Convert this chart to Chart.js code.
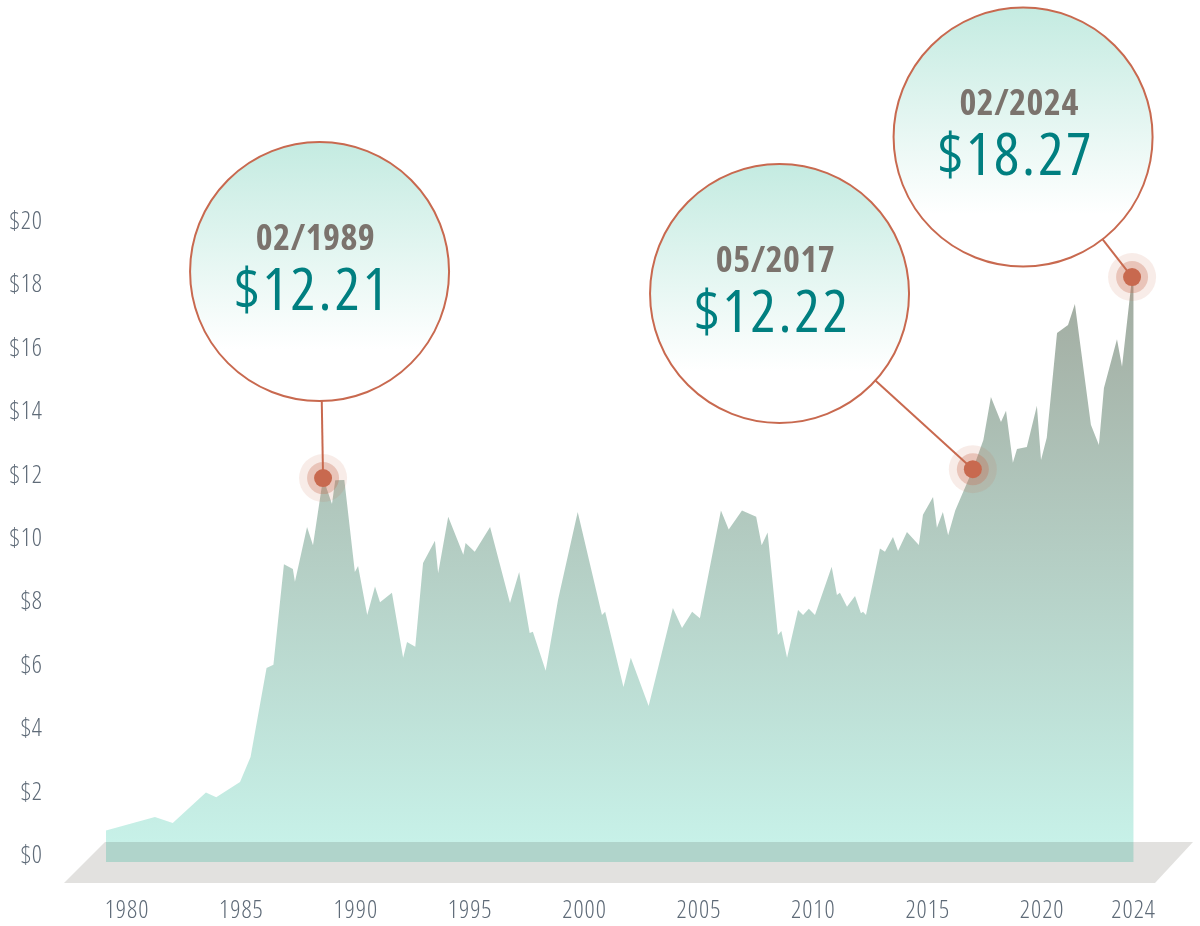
<!DOCTYPE html>
<html><head><meta charset="utf-8">
<script src="https://cdn.jsdelivr.net/npm/chart.js@4.4.1/dist/chart.umd.min.js"></script>
<style>html,body{margin:0;padding:0;background:#fff;overflow:hidden;}#wrap{width:1200px;height:926px;position:relative;}canvas{display:block;}</style>
</head><body><div id="wrap"><canvas id="c"></canvas></div>
<script>
// ---- data ----
const years = [1979.08,1981.22,1982.0,1983.45,1983.9,1984.94,1985.4,1986.1,1986.4,1986.86,1987.25,1987.34,1987.87,1988.13,1988.57,1988.96,1989.1,1989.5,1989.96,1990.1,1990.5,1990.84,1991.06,1991.58,1992.07,1992.24,1992.6,1992.94,1993.46,1993.6,1994.04,1994.7,1994.8,1995.2,1995.87,1996.74,1997.14,1997.6,1997.74,1998.3,1998.84,1999.7,2000.76,2000.9,2001.7,2002.02,2002.8,2003.86,2004.26,2004.7,2005.04,2005.96,2006.3,2006.88,2007.5,2007.74,2008.0,2008.45,2008.6,2008.85,2009.33,2009.55,2009.8,2010.07,2010.8,2011.03,2011.16,2011.47,2011.82,2012.08,2012.17,2012.3,2012.91,2013.13,2013.48,2013.7,2014.09,2014.61,2014.79,2015.23,2015.4,2015.66,2015.89,2016.2,2016.97,2017.43,2017.76,2018.2,2018.42,2018.72,2018.9,2019.33,2019.77,2019.95,2020.2,2020.65,2021.13,2021.43,2022.13,2022.48,2022.7,2023.27,2023.49,2023.93,2024.0];
const values = [0.80,1.23,1.04,2.0,1.85,2.33,3.12,5.93,6.03,9.2,9.05,8.65,10.38,9.8,11.92,11.1,11.85,11.86,8.96,9.15,7.6,8.5,8.0,8.3,6.25,6.75,6.6,9.24,9.94,8.92,10.7,9.5,9.87,9.6,10.38,7.98,8.96,7.03,7.07,5.84,8.08,10.85,7.6,7.7,5.33,6.25,4.73,7.82,7.19,7.7,7.5,10.9,10.3,10.9,10.7,9.8,10.2,6.97,7.1,6.25,7.76,7.6,7.8,7.6,9.12,8.23,8.3,7.86,8.2,7.66,7.7,7.6,9.7,9.6,10.06,9.62,10.22,9.81,10.76,11.32,10.35,10.85,10.12,10.9,12.2,13.12,14.48,13.69,14.04,12.4,12.84,12.9,14.2,12.49,13.19,16.5,16.75,17.41,13.6,12.96,14.76,16.3,15.43,18.26,18.2];
const markerYears = [1988.57, 2016.97, 2023.93];
const markerValues = [11.92, 12.2, 18.26];
const markerDates = ['02/1989', '05/2017', '02/2024'];
const markerLabels = ['$12.21', '$12.22', '$18.27'];
const xTickValues = [1980, 1985, 1990, 1995, 2000, 2005, 2010, 2015, 2020, 2024];
const yTickValues = [0, 2, 4, 6, 8, 10, 12, 14, 16, 18, 20];

// ---- styling / layout (not data) ----
// all text on this page uses a narrow width of Open Sans; tick text gets slight tracking
(function () {
  const proto = CanvasRenderingContext2D.prototype;
  const d = Object.getOwnPropertyDescriptor(proto, 'font');
  Object.defineProperty(proto, 'font', {
    configurable: true,
    get() { return d.get.call(this); },
    set(v) {
      d.set.call(this, v);
      try { this.fontStretch = 'semi-condensed'; } catch (e) {}
      try { this.letterSpacing = /\b25px\b/.test(v) ? '1px' : '0px'; } catch (e) {}
    }
  });
})();
const FONT = "'Open Sans', 'DejaVu Sans Condensed', sans-serif";
const calloutOffsets = [{dx: -3.5, dy: -206.5}, {dx: -193.3, dy: -175.7}, {dx: -109, dy: -140}];
const CALLOUT_R = 129.5;
const ACCENT = '#c8694f';

const areaPoints = years.map((x, i) => ({x, y: values[i]}));
const markerPoints = markerYears.map((x, i) => ({x, y: markerValues[i]}));

const decor = {
  id: 'decor',
  afterDatasetDraw(chart, args) {
    if (args.index !== 0) return;
    const ctx = chart.ctx, ca = chart.chartArea;
    const xs = chart.scales.x, ys = chart.scales.y;
    // perspective floor
    ctx.save();
    ctx.globalCompositeOperation = 'multiply';
    ctx.fillStyle = '#e2e1df';
    const top = ca.bottom - 20, bot = ca.bottom + 21;
    ctx.beginPath();
    ctx.moveTo(105, top); ctx.lineTo(1193, top); ctx.lineTo(1155, bot); ctx.lineTo(64, bot);
    ctx.closePath(); ctx.fill();
    ctx.restore();
    // callouts
    markerYears.forEach((yr, i) => {
      const px = xs.getPixelForValue(yr), py = ys.getPixelForValue(markerValues[i]);
      const cx = px + calloutOffsets[i].dx, cy = py + calloutOffsets[i].dy;
      const ddx = px - cx, ddy = py - cy, len = Math.hypot(ddx, ddy);
      const ex = cx + CALLOUT_R * ddx / len, ey = cy + CALLOUT_R * ddy / len;
      ctx.save();
      ctx.strokeStyle = ACCENT; ctx.lineWidth = 2;
      ctx.beginPath(); ctx.moveTo(ex, ey); ctx.lineTo(px, py); ctx.stroke();
      const g = ctx.createLinearGradient(0, cy - CALLOUT_R, 0, cy + CALLOUT_R);
      g.addColorStop(0, '#c4ebe1'); g.addColorStop(0.8, '#ffffff'); g.addColorStop(1, '#ffffff');
      ctx.beginPath(); ctx.arc(cx, cy, CALLOUT_R, 0, Math.PI * 2);
      ctx.fillStyle = g; ctx.fill();
      ctx.lineWidth = 2; ctx.strokeStyle = ACCENT; ctx.stroke();
      ctx.textAlign = 'center'; ctx.textBaseline = 'alphabetic';
      ctx.fillStyle = '#7b736d'; ctx.font = "700 36px " + FONT;
      ctx.letterSpacing = '0.5px';
      ctx.fillText(markerDates[i], cx - 4, cy - 22);
      ctx.fillStyle = '#007f80'; ctx.font = "400 59px " + FONT;
      ctx.letterSpacing = '3px';
      ctx.fillText(markerLabels[i], cx - 7, cy + 38);
      ctx.restore();
    });
  }
};

new Chart(document.getElementById('c'), {
  type: 'line',
  data: {
    datasets: [
      { label: 'area', data: areaPoints, order: 10, fill: 'start', borderWidth: 0, pointRadius: 0, tension: 0,
        backgroundColor(ctx) {
          const ca = ctx.chart.chartArea;
          if (!ca) return '#b4cec3';
          const g = ctx.chart.ctx.createLinearGradient(0, 270, 0, ca.bottom - 20);
          g.addColorStop(0, '#a1aa9f'); g.addColorStop(1, '#c7f1e8');
          return g;
        } },
      { label: 'halo', data: markerPoints, order: 3, showLine: false, clip: false, pointRadius: 24, pointHoverRadius: 24,
        pointBackgroundColor: 'rgba(200,105,79,0.13)', pointBorderWidth: 0 },
      { label: 'ring', data: markerPoints, order: 2, showLine: false, clip: false, pointRadius: 16, pointHoverRadius: 16,
        pointBackgroundColor: 'rgba(200,105,79,0.30)', pointBorderWidth: 0 },
      { label: 'dot', data: markerPoints, order: 1, showLine: false, clip: false, pointRadius: 9, pointHoverRadius: 9,
        pointBackgroundColor: ACCENT, pointBorderWidth: 0 }
    ]
  },
  options: {
    responsive: true, maintainAspectRatio: false, animation: false, events: [],
    layout: { autoPadding: false, padding: { left: 0, right: 5, top: 0, bottom: 0 } },
    plugins: { legend: { display: false }, tooltip: { enabled: false } },
    scales: {
      x: { type: 'linear', min: 1976.635, max: 2026.68,
        grid: { display: false, drawTicks: false }, border: { display: false },
        afterBuildTicks(s) { s.ticks = xTickValues.map(v => ({value: v})); },
        afterFit(s) { s.paddingLeft = 0; s.paddingRight = 0; s.height = 64; },
        ticks: { padding: 34, color: '#5f6b78', font: { family: FONT, size: 25, weight: 300 }, maxRotation: 0, autoSkip: false, callback: v => String(v) } },
      y: { min: -0.19, max: 27.0,
        grid: { display: false, drawTicks: false }, border: { display: false },
        afterBuildTicks(s) { s.ticks = yTickValues.map(v => ({value: v})); },
        afterFit(s) { s.width = 50; s.paddingTop = 0; s.paddingBottom = 0; },
        ticks: { padding: 7, color: '#5f6b78', font: { family: FONT, size: 25, weight: 300 }, autoSkip: false, callback: v => '$' + v } }
    }
  },
  plugins: [decor]
});
</script>
</body></html>
